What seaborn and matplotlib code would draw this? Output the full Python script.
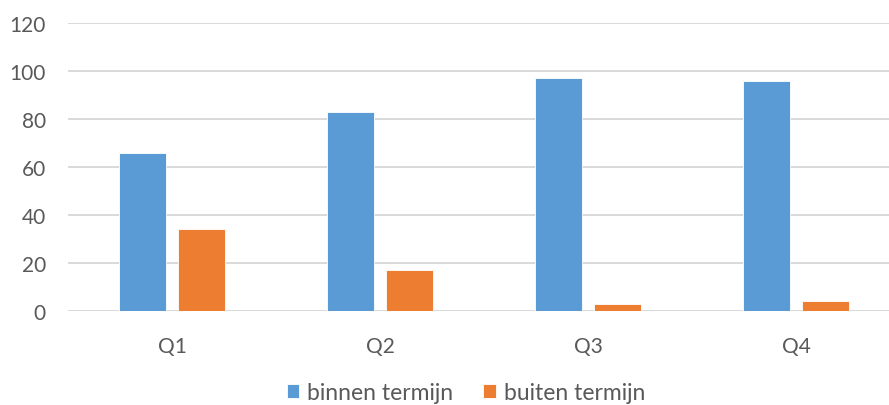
import pandas as pd
import matplotlib.pyplot as plt
import seaborn as sns

# data
quarters = ['Q1', 'Q2', 'Q3', 'Q4']
binnen = [66, 83, 97, 96]
buiten = [34, 17, 3, 4]
series_names = ['binnen termijn', 'buiten termijn']

df = pd.DataFrame({
    'kwartaal': quarters * 2,
    'waarde': binnen + buiten,
    'reeks': [series_names[0]] * 4 + [series_names[1]] * 4,
})

sns.set_style('white')
plt.rcParams['font.family'] = ['Lato', 'DejaVu Sans']
text_color = '#595959'

fig = plt.figure(figsize=(8.89, 4.06), dpi=100)
ax = fig.add_axes([68 / 889, 1 - 312 / 406, 832 / 889, (312 - 24) / 406])

colors = {'binnen termijn': '#5B9BD5', 'buiten termijn': '#ED7D31'}
sns.barplot(data=df, x='kwartaal', y='waarde', hue='reeks', palette=colors,
            width=0.567, gap=0.2, ax=ax, edgecolor='white', linewidth=0.6,
            saturation=1, legend=True)

ax.set_ylim(0, 120)
ax.set_xlim(-0.5, 3.5)
ax.set_yticks(range(0, 121, 20))
ax.yaxis.grid(True, color='#D9D9D9', linewidth=1.4)
ax.set_axisbelow(True)
for s in ax.spines.values():
    s.set_visible(False)
ax.tick_params(axis='both', length=0, labelsize=15, labelcolor=text_color)
ax.tick_params(axis='y', pad=16)
ax.tick_params(axis='x', pad=18)
ax.set_xlabel('')
ax.set_ylabel('')

handles, labels = ax.get_legend_handles_labels()
ax.legend_.remove()
fig.legend(handles, labels, loc='center', bbox_to_anchor=(466 / 889, 1 - 394 / 406),
           ncol=2, frameon=False, fontsize=16.5, handlelength=0.55, handleheight=0.55,
           handletextpad=0.35, columnspacing=1.3, labelcolor=text_color)

fig.savefig('out.png', dpi=100)
